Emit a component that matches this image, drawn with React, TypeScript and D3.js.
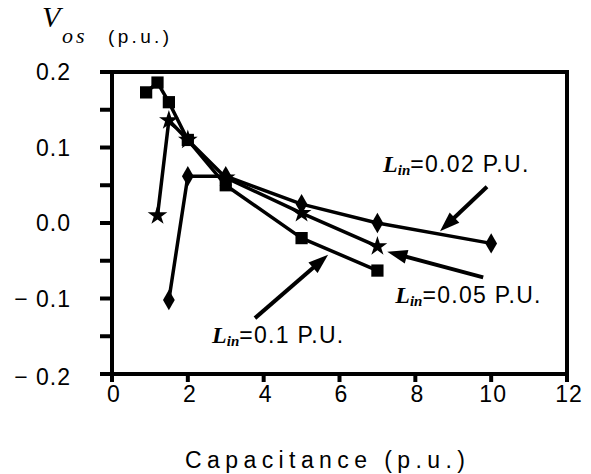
import React from "react";
import * as d3 from "d3";

const W = 591;
const H = 474;

const capL10 = [0.9, 1.2, 1.5, 2, 3, 5, 7];
const vosL10 = [0.173, 0.186, 0.16, 0.11, 0.05, -0.02, -0.063];

const capL05 = [1.2, 1.5, 2, 3, 5, 7];
const vosL05 = [0.01, 0.136, 0.11, 0.06, 0.013, -0.031];

const capL02 = [1.5, 2, 3, 5, 7, 10];
const vosL02 = [-0.102, 0.062, 0.062, 0.025, 0.0, -0.027];

const xTicks = [0, 2, 4, 6, 8, 10, 12];
const xTickLabels = ["0", "2", "4", "6", "8", "10", "12"];
const yMajor = [0.2, 0.1, 0.0, -0.1, -0.2];
const yTickLabels = ["0.2", "0.1", "0.0", "\u2212 0.1", "\u2212 0.2"];
const yMinor = [0.15, 0.05, -0.05, -0.15];

const annLabels = ["=0.02 P.U.", "=0.05 P.U.", "=0.1 P.U."];
const annArrows = [
  [9.89, 0.048, 8.65, -0.011],
  [9.79, -0.072, 7.26, -0.038],
  [3.77, -0.126, 5.7, -0.042],
];
const annText = [
  [7.15, 0.067],
  [7.47, -0.106],
  [2.64, -0.159],
];

export default function App() {
  const x = d3.scaleLinear().domain([0, 12]).range([112, 567]);
  const y = d3.scaleLinear().domain([-0.2, 0.2]).range([374, 72]);
  const line = d3
    .line<[number, number]>()
    .x((d) => x(d[0]))
    .y((d) => y(d[1]));

  const series = [
    { xs: capL10, ys: vosL10, sym: d3.symbolSquare, size: 150 },
    { xs: capL05, ys: vosL05, sym: d3.symbolStar, size: 120 },
    { xs: capL02, ys: vosL02, sym: d3.symbolDiamond, size: 120 },
  ];

  const arrowHead = (x1: number, y1: number, x2: number, y2: number) => {
    const ang = Math.atan2(y2 - y1, x2 - x1);
    const len = 20;
    const half = 7;
    const bx = x2 - len * Math.cos(ang);
    const by = y2 - len * Math.sin(ang);
    const px = -Math.sin(ang);
    const py = Math.cos(ang);
    return `M${x2},${y2}L${bx + half * px},${by + half * py}L${bx - half * px},${by - half * py}Z`;
  };

  const sans = "'Liberation Sans', Arial, sans-serif";
  const serif = "'Liberation Serif', 'Times New Roman', serif";

  return (
    <svg width={W} height={H} style={{ position: "absolute", left: 0, top: 0, background: "#fff" }}>
      <rect x={0} y={0} width={W} height={H} fill="#fff" />
      <path
        d={`M${x(0)},${y(0.2)}H${x(12)}V${y(-0.2)}H${x(0)}Z`}
        fill="none"
        stroke="#000"
        strokeWidth={4}
      />
      {[...yMajor, ...yMinor].map((v, i) => (
        <line key={"yt" + i} x1={100} x2={x(0)} y1={y(v)} y2={y(v)} stroke="#000" strokeWidth={4} />
      ))}
      {yMajor.map((v, i) => (
        <text
          key={"yl" + i}
          x={71}
          y={y(v) + (v === -0.2 ? 11 : 8)}
          textAnchor="end"
          fontFamily={sans}
          fontSize={23}
          letterSpacing={1}
        >
          {yTickLabels[i]}
        </text>
      ))}
      {xTicks.map((v, i) => (
        <g key={"xt" + i}>
          <line x1={x(v)} x2={x(v)} y1={y(-0.2)} y2={y(-0.2) + 8} stroke="#000" strokeWidth={4} />
          <text
            x={x(v) + 2}
            y={402}
            textAnchor="middle"
            fontFamily={sans}
            fontSize={23}
            letterSpacing={1}
          >
            {xTickLabels[i]}
          </text>
        </g>
      ))}
      {series.map((s, si) => {
        const pts = s.xs.map((c, i) => [c, s.ys[i]] as [number, number]);
        const sym = d3.symbol().type(s.sym).size(s.size)();
        return (
          <g key={"s" + si}>
            <path d={line(pts) || ""} fill="none" stroke="#000" strokeWidth={3.5} strokeLinejoin="round" />
            {pts.map((p, i) => (
              <path key={i} d={sym || ""} transform={`translate(${x(p[0])},${y(p[1])})`} fill="#000" />
            ))}
          </g>
        );
      })}
      {annArrows.map((a, i) => {
        const x1 = x(a[0]);
        const y1 = y(a[1]);
        const x2 = x(a[2]);
        const y2 = y(a[3]);
        const ang = Math.atan2(y2 - y1, x2 - x1);
        const ex = x2 - 16 * Math.cos(ang);
        const ey = y2 - 16 * Math.sin(ang);
        return (
          <g key={"a" + i}>
            <line x1={x1} y1={y1} x2={ex} y2={ey} stroke="#000" strokeWidth={4} />
            <path d={arrowHead(x1, y1, x2, y2)} fill="#000" />
          </g>
        );
      })}
      {annText.map((t, i) => (
        <text key={"t" + i} x={x(t[0])} y={y(t[1])} fontSize={23}>
          <tspan fontFamily={serif} fontStyle="italic" fontWeight="bold" fontSize={24}>
            L
          </tspan>
          <tspan fontFamily={serif} fontStyle="italic" fontWeight="bold" fontSize={15} dy={3}>
            in
          </tspan>
          <tspan fontFamily={sans} dy={-3} letterSpacing={1.3}>
            {annLabels[i]}
          </tspan>
        </text>
      ))}
      <text x={42} y={27} fontFamily={serif} fontStyle="italic" fontSize={30}>
        V
      </text>
      <text x={62} y={43} fontFamily={serif} fontStyle="italic" fontSize={22} letterSpacing={3}>
        os
      </text>
      <text x={108} y={43} fontFamily={sans} fontSize={19} textLength={61} lengthAdjust="spacing">
        (p.u.)
      </text>
      <text
        x={185}
        y={468}
        fontFamily={sans}
        fontSize={23}
        textLength={280}
        lengthAdjust="spacing"
      >
        Capacitance (p.u.)
      </text>
    </svg>
  );
}
